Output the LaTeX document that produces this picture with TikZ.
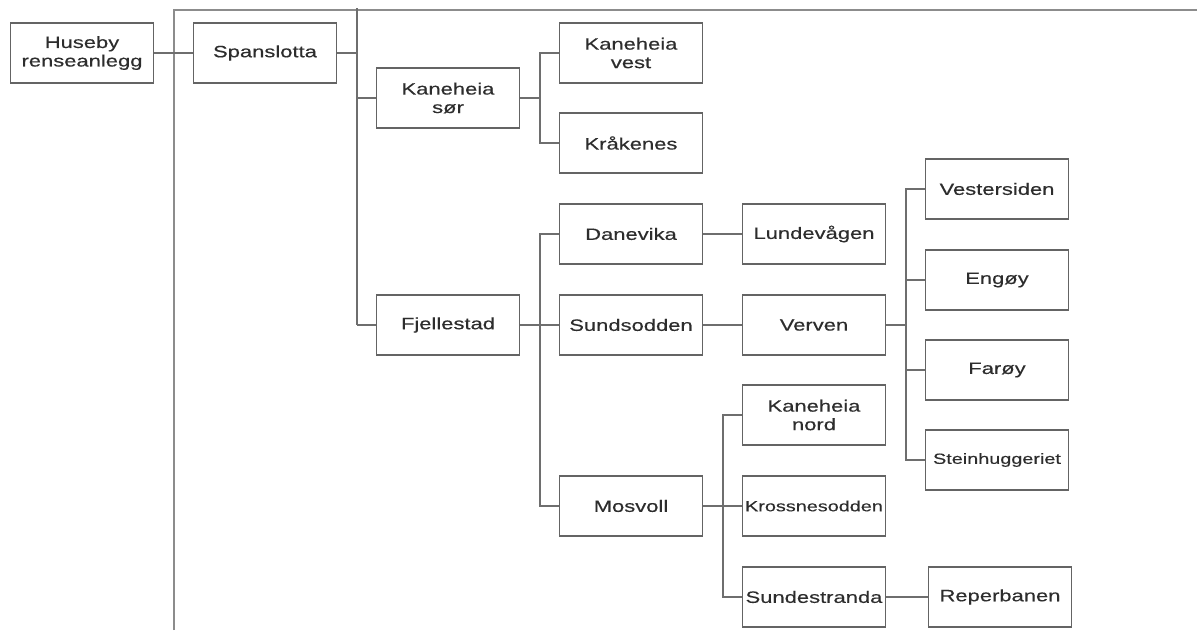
\documentclass[tikz,border=0pt]{standalone}
\usepackage{fontspec}
\setmainfont{Liberation Sans}[FakeStretch=1.34,FakeBold=0.4]
\definecolor{boxline}{RGB}{100,100,100}
\definecolor{conline}{RGB}{110,110,110}
\definecolor{frameline}{RGB}{140,140,140}
\definecolor{txt}{RGB}{45,45,45}
\begin{document}
\begin{tikzpicture}[x=1pt,y=-1pt,
  box/.style={draw=boxline, line width=1.2pt, minimum width=143pt, minimum height=60pt,
    inner sep=0pt, align=center, text=txt, font=\fontsize{16.4}{18.5}\selectfont},
  smallbox/.style={box, font=\fontsize{14.8}{17}\selectfont},
  con/.style={draw=conline, line width=1.2pt},
  frame/.style={draw=frameline, line width=1.8pt}]
\useasboundingbox (0,0) rectangle (1197,630);
% frame
\coordinate (fl) at (174,10);
\coordinate (fb) at (174,630);
\coordinate (fr) at (1197,10);
\draw[frame] (fb) -- (fl) -- (fr);
% nodes
\node[box] (hus) at (82,53) {Huseby\\renseanlegg};
\node[box] (span) at (265,53) {Spanslotta};
\node[box] (ksor) at (448,98) {Kaneheia\\sør};
\node[box] (kvest) at (631,53) {Kaneheia\\vest};
\node[box] (krak) at (631,143) {Kråkenes};
\node[box] (fj) at (448,325) {Fjellestad};
\node[box] (dane) at (631,234) {Danevika};
\node[box] (sund) at (631,325) {Sundsodden};
\node[box] (mos) at (631,506) {Mosvoll};
\node[box] (lund) at (814,234) {Lundevågen};
\node[box] (verv) at (814,325) {Verven};
\node[box] (knord) at (814,415) {Kaneheia\\nord};
\node[smallbox] (kross) at (814,506) {Krossnesodden};
\node[box] (sundes) at (814,597) {Sundestranda};
\node[box] (vest) at (997,189) {Vestersiden};
\node[box] (eng) at (997,280) {Engøy};
\node[box] (far) at (997,370) {Farøy};
\node[smallbox] (stein) at (997,460) {Steinhuggeriet};
\node[box] (rep) at (1000,597) {Reperbanen};
% bus coordinates
\coordinate (b1) at (357,8);
\coordinate (b2) at (540,0);
\coordinate (b3) at (540,0);
\coordinate (b4) at (906,0);
\coordinate (b5) at (723,0);
% connectors
\draw[con] (hus.east) -- (span.west);
\draw[con] (span.east) -- (span.east -| b1);
\draw[con] (b1) -- (b1 |- fj.west);
\draw[con] (ksor.west -| b1) -- (ksor.west);
\draw[con] (fj.west -| b1) -- (fj.west);
\draw[con] (ksor.east) -- (ksor.east -| b2);
\draw[con] (kvest.west) -- (kvest.west -| b2) -- (krak.west -| b2) -- (krak.west);
\draw[con] (fj.east) -- (sund.west);
\draw[con] (dane.west) -- (dane.west -| b3) -- (mos.west -| b3) -- (mos.west);
\draw[con] (dane.east) -- (lund.west);
\draw[con] (sund.east) -- (verv.west);
\draw[con] (verv.east) -- (verv.east -| b4);
\draw[con] (vest.west) -- (vest.west -| b4) -- (stein.west -| b4) -- (stein.west);
\draw[con] (eng.west -| b4) -- (eng.west);
\draw[con] (far.west -| b4) -- (far.west);
\draw[con] (mos.east) -- (kross.west);
\draw[con] (knord.west) -- (knord.west -| b5) -- (sundes.west -| b5) -- (sundes.west);
\draw[con] (sundes.east) -- (rep.west);
\end{tikzpicture}
\end{document}
